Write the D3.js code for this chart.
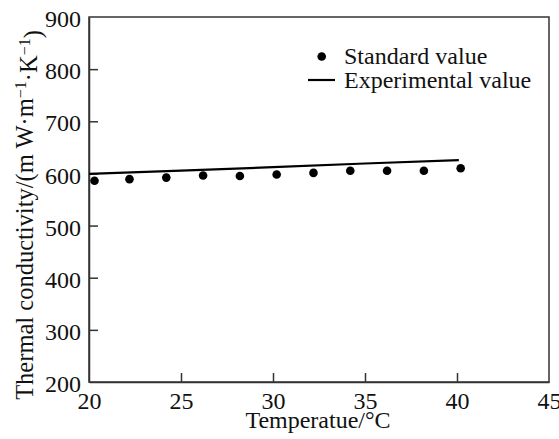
<!DOCTYPE html>
<html>
<head>
<meta charset="utf-8">
<script src="https://cdn.jsdelivr.net/npm/d3@7"></script>
<style>
  body { margin: 0; background: #fff; }
  text { font-family: "Liberation Serif", "Times New Roman", serif; fill: #111; }
</style>
</head>
<body>
<div id="chart"></div>
<script>
// Standard value points
var stdTemp = [20.3, 22.2, 24.2, 26.2, 28.2, 30.2, 32.2, 34.2, 36.2, 38.2, 40.2];
var stdValue = [586, 589, 592, 596, 595, 598, 601, 605, 605, 605, 610];

// Experimental value line
var expTemp = [20, 25, 30, 35, 40.1];
var expValue = [599, 605.5, 612, 619, 625.5];

var xTicks = [20, 25, 30, 35, 40, 45];
var yTicks = [200, 300, 400, 500, 600, 700, 800, 900];

var svgWidth = 559;
var svgHeight = 439;

var margin = { top: 17, right: 10, bottom: 57, left: 89 };
var chartWidth = svgWidth - margin.left - margin.right;
var chartHeight = svgHeight - margin.top - margin.bottom;

var svg = d3.select("#chart")
  .append("svg")
  .attr("width", svgWidth)
  .attr("height", svgHeight);

var chartGroup = svg.append("g")
  .attr("transform", `translate(${margin.left}, ${margin.top})`);

var xScale = d3.scaleLinear().domain([20, 45]).range([0, chartWidth]);
var yScale = d3.scaleLinear().domain([200, 900]).range([chartHeight, 0]);

// frame
chartGroup.append("rect")
  .attr("width", chartWidth)
  .attr("height", chartHeight)
  .attr("fill", "none")
  .attr("stroke", "#333")
  .attr("stroke-width", 1.5);

// axes with inward ticks
var bottomAxis = d3.axisBottom(xScale).tickValues(xTicks).tickSizeInner(-9).tickSizeOuter(0).tickPadding(10);
var leftAxis = d3.axisLeft(yScale).tickValues(yTicks).tickSizeInner(-9).tickSizeOuter(0).tickPadding(8);

var xAxisG = chartGroup.append("g")
  .attr("transform", `translate(0, ${chartHeight})`)
  .call(bottomAxis);
var yAxisG = chartGroup.append("g").call(leftAxis);

[xAxisG, yAxisG].forEach(function(g) {
  g.attr("font-family", "Liberation Serif").attr("font-size", 24);
  g.select(".domain").attr("stroke", "#333").attr("stroke-width", 1.5);
  g.selectAll(".tick line").attr("stroke", "#333").attr("stroke-width", 1.5);
  g.selectAll(".tick text").attr("fill", "#111");
});
// drop the tick marks that sit on the frame corners
xAxisG.selectAll(".tick line").filter(function(d) { return d === 20 || d === 45; }).remove();
yAxisG.selectAll(".tick line").filter(function(d) { return d === 200 || d === 900; }).remove();
yAxisG.selectAll(".tick text").attr("dy", "0.4em");

// experimental line
var line = d3.line()
  .x(function(d, i) { return xScale(expTemp[i]); })
  .y(function(d) { return yScale(d); });

chartGroup.append("path")
  .datum(expValue)
  .attr("d", line)
  .attr("fill", "none")
  .attr("stroke", "#000")
  .attr("stroke-width", 2.2);

// standard points
chartGroup.selectAll("circle.std")
  .data(stdValue)
  .enter().append("circle")
    .attr("class", "std")
    .attr("cx", function(d, i) { return xScale(stdTemp[i]); })
    .attr("cy", function(d) { return yScale(d); })
    .attr("r", 4.3)
    .attr("fill", "#000");

// legend
var legend = svg.append("g");
legend.append("circle")
  .attr("cx", 321.7).attr("cy", 56.5).attr("r", 4.3).attr("fill", "#000");
legend.append("text")
  .attr("x", 344).attr("y", 64)
  .style("font-size", "24px")
  .text("Standard value");
legend.append("line")
  .attr("x1", 308).attr("x2", 335).attr("y1", 80).attr("y2", 80)
  .attr("stroke", "#000").attr("stroke-width", 2.2);
legend.append("text")
  .attr("x", 344).attr("y", 88)
  .style("font-size", "24px")
  .text("Experimental value");

// axis labels
svg.append("text")
  .attr("x", margin.left + chartWidth / 2 - 1)
  .attr("y", 428)
  .attr("text-anchor", "middle")
  .style("font-size", "24px")
  .text("Temperatue/°C");

var yLabel = svg.append("text")
  .attr("transform", "translate(33, 215) rotate(-90)")
  .attr("text-anchor", "middle")
  .style("font-size", "24.5px");
yLabel.append("tspan").text("Thermal conductivity/(m W·m");
yLabel.append("tspan").attr("dy", "-0.45em").style("font-size", "16px").text("−1");
yLabel.append("tspan").attr("dy", "0.45em").text("·K");
yLabel.append("tspan").attr("dy", "-0.45em").style("font-size", "16px").text("−1");
yLabel.append("tspan").attr("dy", "0.45em").text(")");
</script>
</body>
</html>
